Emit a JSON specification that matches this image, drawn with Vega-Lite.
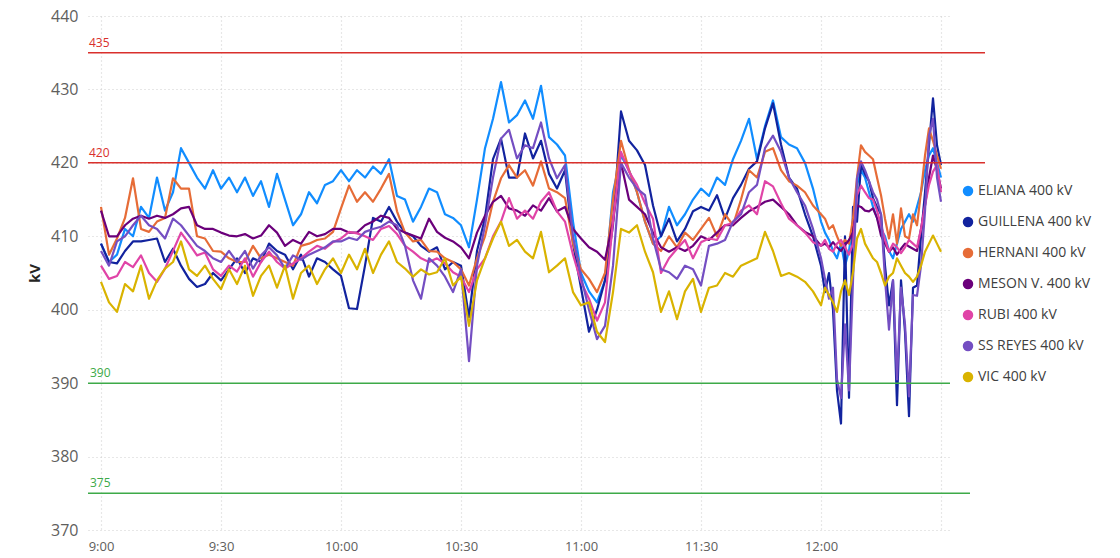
{
  "$schema": "https://vega.github.io/schema/vega-lite/v6.json",
  "width": 862,
  "height": 514,
  "autosize": {"type": "none"},
  "padding": {"left": 88, "top": 16, "right": 170, "bottom": 28},
  "background": "white",
  "config": {
    "font": "Open Sans",
    "view": {"stroke": null},
    "axis": {"domain": false, "ticks": false, "grid": true, "gridColor": "#cfcfcf", "gridDash": [1, 3], "gridWidth": 1.2}
  },
  "layer": [
    {
      "data": {
        "format": {"parse": {"t": "utc:'%H:%M'"}},
        "values": [
          {"t":"09:00","E":409,"G":409,"H":414,"M":413.5,"R":406,"S":408,"V":403.8},
          {"t":"09:02","E":406.5,"G":406.5,"H":407.5,"M":410,"R":404.2,"S":406,"V":401},
          {"t":"09:04","E":407.5,"G":406.3,"H":409.7,"M":410,"R":404.6,"S":409.3,"V":399.7},
          {"t":"09:06","E":411,"G":408,"H":412.5,"M":411.5,"R":406.5,"S":410,"V":403.5},
          {"t":"09:08","E":410,"G":409.3,"H":417.9,"M":412.4,"R":405.8,"S":411.5,"V":402.5},
          {"t":"09:10","E":414,"G":409.3,"H":411,"M":412.8,"R":407.4,"S":412.8,"V":406},
          {"t":"09:12","E":412.5,"G":409.5,"H":410.6,"M":412.4,"R":405,"S":411.5,"V":401.5},
          {"t":"09:14","E":418,"G":409.7,"H":412,"M":412.8,"R":403.8,"S":411,"V":404},
          {"t":"09:16","E":413.5,"G":406.5,"H":412.5,"M":412.5,"R":405.6,"S":409.7,"V":405.6},
          {"t":"09:18","E":416,"G":408.3,"H":417.9,"M":413,"R":408,"S":412.4,"V":406.5},
          {"t":"09:20","E":422,"G":406,"H":416.5,"M":413.8,"R":410.5,"S":411.5,"V":409.3},
          {"t":"09:22","E":420,"G":404.2,"H":416.5,"M":414,"R":409,"S":410.1,"V":405.5},
          {"t":"09:24","E":418,"G":403.1,"H":410,"M":411.5,"R":407.4,"S":408.7,"V":404.6},
          {"t":"09:26","E":416.5,"G":403.5,"H":409.7,"M":411,"R":407.8,"S":408,"V":406},
          {"t":"09:28","E":419,"G":405,"H":408,"M":411,"R":405.5,"S":407,"V":404.2},
          {"t":"09:30","E":416.5,"G":404,"H":407.9,"M":410.5,"R":404.6,"S":406.5,"V":402.8},
          {"t":"09:32","E":418,"G":405.5,"H":407,"M":410.1,"R":406,"S":408,"V":405.5},
          {"t":"09:34","E":416,"G":407,"H":406.5,"M":410,"R":405.2,"S":406.5,"V":403.5},
          {"t":"09:36","E":418,"G":405,"H":406.5,"M":410.3,"R":407,"S":408,"V":406},
          {"t":"09:38","E":415.5,"G":407,"H":408.7,"M":409.7,"R":404.5,"S":405.6,"V":401.9},
          {"t":"09:40","E":417.5,"G":406.5,"H":407,"M":410.1,"R":406.5,"S":407.4,"V":404.6},
          {"t":"09:42","E":414,"G":409,"H":407.5,"M":411.5,"R":407.9,"S":408.5,"V":406},
          {"t":"09:44","E":418.5,"G":408,"H":407,"M":410.5,"R":406.5,"S":407.4,"V":403},
          {"t":"09:46","E":415,"G":407.5,"H":406.5,"M":408.7,"R":405.6,"S":405.6,"V":406},
          {"t":"09:48","E":411.5,"G":405.5,"H":406,"M":409.5,"R":406.3,"S":407.4,"V":401.5},
          {"t":"09:50","E":413,"G":407.5,"H":408.7,"M":409,"R":407,"S":406.8,"V":405},
          {"t":"09:52","E":416,"G":404.5,"H":409,"M":410.6,"R":407.9,"S":407.5,"V":406},
          {"t":"09:54","E":414.5,"G":407,"H":409.5,"M":410,"R":408.7,"S":408,"V":403.5},
          {"t":"09:56","E":417,"G":406.5,"H":409.7,"M":410.3,"R":408.3,"S":408.5,"V":405.5},
          {"t":"09:58","E":417.5,"G":405.5,"H":410.6,"M":411,"R":409.2,"S":409.3,"V":407},
          {"t":"10:00","E":419,"G":404.6,"H":413.8,"M":411,"R":409.7,"S":409.3,"V":405},
          {"t":"10:02","E":417.5,"G":400.2,"H":416.9,"M":410.5,"R":410.6,"S":409.8,"V":407.5},
          {"t":"10:04","E":419,"G":400.1,"H":414.7,"M":410.5,"R":410.4,"S":409.5,"V":405.5},
          {"t":"10:06","E":418,"G":406,"H":416,"M":411.5,"R":410,"S":410.6,"V":408.3},
          {"t":"10:08","E":419.5,"G":412.5,"H":414.7,"M":412,"R":409.5,"S":411,"V":405},
          {"t":"10:10","E":418.5,"G":412,"H":416.5,"M":412.8,"R":411,"S":411.3,"V":407.5},
          {"t":"10:12","E":420.5,"G":414,"H":418.5,"M":412.5,"R":411.4,"S":412,"V":409.3},
          {"t":"10:14","E":415.5,"G":412,"H":413.4,"M":411,"R":410.3,"S":411.5,"V":406.5},
          {"t":"10:16","E":415,"G":410.5,"H":410.5,"M":410.5,"R":408.7,"S":408.7,"V":405.6},
          {"t":"10:18","E":412,"G":410,"H":409.3,"M":410.1,"R":407.9,"S":404,"V":404.5},
          {"t":"10:20","E":414,"G":408.7,"H":409.5,"M":409.7,"R":407,"S":401.5,"V":405.5},
          {"t":"10:22","E":416.5,"G":407.9,"H":408,"M":412.4,"R":406.5,"S":407,"V":404.8},
          {"t":"10:24","E":416,"G":408.5,"H":407.9,"M":410.6,"R":407,"S":406,"V":405.1},
          {"t":"10:26","E":413,"G":405.5,"H":407,"M":409.8,"R":406.3,"S":404.5,"V":407},
          {"t":"10:28","E":412.5,"G":406.5,"H":406.5,"M":409.3,"R":405.1,"S":402.4,"V":403.3},
          {"t":"10:30","E":411.5,"G":406,"H":405.5,"M":408.5,"R":404.5,"S":405.5,"V":404.5},
          {"t":"10:32","E":408.5,"G":399,"H":403.3,"M":407,"R":402.4,"S":393,"V":397.8},
          {"t":"10:34","E":415,"G":408,"H":407,"M":410.5,"R":405.5,"S":406,"V":404},
          {"t":"10:36","E":422,"G":412.5,"H":410,"M":412.8,"R":407,"S":411.5,"V":407},
          {"t":"10:38","E":426,"G":420.5,"H":414.7,"M":414.7,"R":410,"S":418,"V":409.7},
          {"t":"10:40","E":431,"G":423.3,"H":417.9,"M":415.5,"R":412,"S":423.3,"V":412},
          {"t":"10:42","E":425.5,"G":418,"H":419.7,"M":413.8,"R":415.2,"S":424.5,"V":408.7},
          {"t":"10:44","E":426.5,"G":418,"H":418,"M":413.5,"R":412.4,"S":420.6,"V":409.5},
          {"t":"10:46","E":428.5,"G":424,"H":419,"M":412.8,"R":413.5,"S":422.4,"V":407.9},
          {"t":"10:48","E":426,"G":420.6,"H":416.9,"M":414.2,"R":412.4,"S":422,"V":407},
          {"t":"10:50","E":430.5,"G":423,"H":420.2,"M":413.5,"R":414.7,"S":425.5,"V":410.6},
          {"t":"10:52","E":423.5,"G":418.5,"H":416.5,"M":415.2,"R":416,"S":420.6,"V":405.1},
          {"t":"10:54","E":422.5,"G":416.5,"H":416,"M":413.4,"R":413.4,"S":417.9,"V":406},
          {"t":"10:56","E":421,"G":419,"H":415.2,"M":414,"R":412,"S":419.7,"V":407},
          {"t":"10:58","E":412,"G":409,"H":409,"M":411,"R":407.5,"S":410,"V":402.4},
          {"t":"11:00","E":405,"G":403,"H":405.5,"M":409.7,"R":403.8,"S":404.5,"V":400.6},
          {"t":"11:02","E":402.5,"G":397,"H":404.2,"M":408.5,"R":401.5,"S":400,"V":401},
          {"t":"11:04","E":401,"G":400,"H":402.4,"M":407.9,"R":398.5,"S":396,"V":397},
          {"t":"11:06","E":404,"G":404,"H":405,"M":406.8,"R":401,"S":397.8,"V":395.6},
          {"t":"11:08","E":416,"G":411.5,"H":415,"M":412,"R":412,"S":406,"V":402.4},
          {"t":"11:10","E":421,"G":427,"H":423,"M":420,"R":421.5,"S":420,"V":411},
          {"t":"11:12","E":419,"G":423,"H":419,"M":415,"R":418.8,"S":418,"V":410.5},
          {"t":"11:14","E":416,"G":421.7,"H":416,"M":414,"R":417,"S":416.5,"V":411.5},
          {"t":"11:16","E":412,"G":419.7,"H":412,"M":413,"R":414.5,"S":415.6,"V":407.9},
          {"t":"11:18","E":409,"G":414.2,"H":409,"M":410.5,"R":412.4,"S":409.7,"V":405.1},
          {"t":"11:20","E":410,"G":410,"H":408,"M":408.5,"R":405,"S":405.5,"V":399.7},
          {"t":"11:22","E":414,"G":412.4,"H":410,"M":407.9,"R":407,"S":405.1,"V":402.5},
          {"t":"11:24","E":411.5,"G":409.3,"H":408.5,"M":408.5,"R":408.3,"S":404.2,"V":398.7},
          {"t":"11:26","E":413,"G":411,"H":410.5,"M":408,"R":409.5,"S":406,"V":402.5},
          {"t":"11:28","E":415,"G":413.4,"H":409.5,"M":408.7,"R":407,"S":405.5,"V":404.2},
          {"t":"11:30","E":416.5,"G":414,"H":411,"M":410,"R":409.2,"S":403.3,"V":399.7},
          {"t":"11:32","E":415.5,"G":413.5,"H":412.5,"M":409.5,"R":409.7,"S":408.7,"V":403},
          {"t":"11:34","E":418,"G":415.6,"H":410,"M":410.5,"R":409.5,"S":409,"V":403.3},
          {"t":"11:36","E":417,"G":412.4,"H":413,"M":411.5,"R":411.5,"S":409.5,"V":405},
          {"t":"11:38","E":420.5,"G":415.2,"H":411.5,"M":411.5,"R":411.8,"S":412,"V":404.5},
          {"t":"11:40","E":423,"G":417,"H":415,"M":412.5,"R":413.5,"S":413,"V":406},
          {"t":"11:42","E":426,"G":419.2,"H":419,"M":413.4,"R":414.2,"S":416,"V":406.5},
          {"t":"11:44","E":420.5,"G":420.2,"H":418,"M":414,"R":413,"S":417,"V":407},
          {"t":"11:46","E":425,"G":424.7,"H":421.5,"M":414.7,"R":417.5,"S":422,"V":410.6},
          {"t":"11:48","E":428.5,"G":428.1,"H":422,"M":415,"R":416.8,"S":423.7,"V":408},
          {"t":"11:50","E":423.5,"G":422.5,"H":419,"M":414,"R":414.5,"S":421.5,"V":404.6},
          {"t":"11:52","E":422.5,"G":418,"H":417.5,"M":413,"R":412.4,"S":418,"V":405},
          {"t":"11:54","E":422,"G":416.5,"H":416.9,"M":411.5,"R":411.5,"S":416,"V":404.5},
          {"t":"11:56","E":420,"G":413,"H":416,"M":410.6,"R":410.5,"S":414.2,"V":403.8},
          {"t":"11:58","E":416.5,"G":410,"H":414.2,"M":410,"R":409.2,"S":411,"V":402.5},
          {"t":"12:00","E":412,"G":406,"H":413,"M":408.7,"R":408.7,"S":407,"V":400.6},
          {"t":"12:01","E":410.5,"G":402.4,"H":412.4,"M":409,"R":409.5,"S":404.2,"V":403},
          {"t":"12:02","E":409.5,"G":405,"H":411,"M":408.5,"R":408.3,"S":401.5,"V":402},
          {"t":"12:03","E":408,"G":400,"H":411.5,"M":409.2,"R":407.9,"S":403,"V":401},
          {"t":"12:04","E":407,"G":389,"H":410,"M":408.5,"R":409,"S":390.5,"V":399.7},
          {"t":"12:05","E":409,"G":384.5,"H":408.7,"M":408,"R":409.5,"S":388,"V":402.5},
          {"t":"12:06","E":406,"G":410,"H":409.5,"M":408.8,"R":408.5,"S":398,"V":404},
          {"t":"12:07","E":408,"G":388,"H":409,"M":409.5,"R":407.5,"S":389,"V":402},
          {"t":"12:08","E":412,"G":414,"H":412.4,"M":410.5,"R":409,"S":404,"V":405.1},
          {"t":"12:09","E":417,"G":412,"H":418,"M":414.2,"R":415.6,"S":417.9,"V":409.7},
          {"t":"12:10","E":419,"G":419.7,"H":422.4,"M":414,"R":416.9,"S":420.2,"V":411},
          {"t":"12:11","E":418,"G":418.5,"H":421.5,"M":413.5,"R":416,"S":419,"V":409},
          {"t":"12:12","E":416,"G":417.5,"H":421,"M":413.4,"R":415.2,"S":417.5,"V":408},
          {"t":"12:13","E":414,"G":415.2,"H":420.5,"M":413.8,"R":415,"S":416,"V":407},
          {"t":"12:14","E":412.5,"G":414,"H":418,"M":412.5,"R":413.5,"S":415,"V":406.5},
          {"t":"12:15","E":411,"G":413,"H":415.6,"M":410.1,"R":411.5,"S":413,"V":405},
          {"t":"12:16","E":410,"G":406,"H":412.4,"M":409,"R":409.5,"S":404.2,"V":403.3},
          {"t":"12:17","E":408,"G":400.6,"H":409.7,"M":407.9,"R":407.9,"S":397.3,"V":404.5},
          {"t":"12:18","E":407,"G":404,"H":413,"M":408.5,"R":409,"S":404,"V":405},
          {"t":"12:19","E":409,"G":387,"H":409,"M":407.5,"R":408.5,"S":390.5,"V":407},
          {"t":"12:20","E":411,"G":404,"H":413.8,"M":408.3,"R":407.7,"S":403,"V":406},
          {"t":"12:21","E":412,"G":397,"H":410,"M":409,"R":408.5,"S":398,"V":405},
          {"t":"12:22","E":413,"G":385.5,"H":409.7,"M":408.6,"R":409.5,"S":388.2,"V":404.5},
          {"t":"12:23","E":412,"G":403,"H":413,"M":408.3,"R":409,"S":402,"V":403.8},
          {"t":"12:24","E":414,"G":403.3,"H":411.5,"M":408,"R":408.5,"S":401.9,"V":404.5},
          {"t":"12:25","E":416,"G":410,"H":416,"M":411,"R":411,"S":406,"V":406},
          {"t":"12:26","E":419,"G":416,"H":421,"M":414.2,"R":414.2,"S":413.4,"V":407.9},
          {"t":"12:27","E":421,"G":422.4,"H":424.7,"M":418,"R":417,"S":423.7,"V":409},
          {"t":"12:28","E":422,"G":428.8,"H":423,"M":421,"R":418.8,"S":426,"V":410.1},
          {"t":"12:29","E":420,"G":422.4,"H":421,"M":419,"R":419.7,"S":418,"V":409},
          {"t":"12:30","E":418,"G":419.7,"H":419.2,"M":416.5,"R":416,"S":414.7,"V":407.9}
        ]
      },
      "transform": [
        {"fold": ["E", "G", "H", "M", "R", "S", "V"], "as": ["k", "kV"]},
        {"lookup": "k", "from": {"data": {"values": [
          {"k": "E", "name": "ELIANA 400 kV"},
          {"k": "G", "name": "GUILLENA 400 kV"},
          {"k": "H", "name": "HERNANI 400 kV"},
          {"k": "M", "name": "MESON V. 400 kV"},
          {"k": "R", "name": "RUBI 400 kV"},
          {"k": "S", "name": "SS REYES 400 kV"},
          {"k": "V", "name": "VIC 400 kV"}
        ]}, "key": "k", "fields": ["name"]}}
      ],
      "mark": {"type": "line", "strokeWidth": 2.2, "strokeJoin": "round"},
      "encoding": {
        "x": {
          "field": "t", "type": "temporal",
          "scale": {"type": "utc", "domain": [
            {"year": 1900, "month": 1, "date": 1, "hours": 8, "minutes": 56, "seconds": 45, "utc": true},
            {"year": 1900, "month": 1, "date": 1, "hours": 12, "minutes": 32, "seconds": 15, "utc": true}
          ]},
          "axis": {
            "title": null,
            "format": "%-H:%M",
            "values": [
              {"year": 1900, "month": 1, "date": 1, "hours": 9, "minutes": 0, "utc": true},
              {"year": 1900, "month": 1, "date": 1, "hours": 9, "minutes": 30, "utc": true},
              {"year": 1900, "month": 1, "date": 1, "hours": 10, "minutes": 0, "utc": true},
              {"year": 1900, "month": 1, "date": 1, "hours": 10, "minutes": 30, "utc": true},
              {"year": 1900, "month": 1, "date": 1, "hours": 11, "minutes": 0, "utc": true},
              {"year": 1900, "month": 1, "date": 1, "hours": 11, "minutes": 30, "utc": true},
              {"year": 1900, "month": 1, "date": 1, "hours": 12, "minutes": 0, "utc": true},
              {"year": 1900, "month": 1, "date": 1, "hours": 12, "minutes": 30, "utc": true}
            ],
            "labelExpr": "utchours(datum.value) == 12 && utcminutes(datum.value) == 30 ? '' : datum.label",
            "labelFontSize": 13,
            "labelColor": "#605E5C",
            "labelPadding": 10,
            "labelOverlap": false,
            "labelFlush": false
          }
        },
        "y": {
          "field": "kV", "type": "quantitative",
          "scale": {"domain": [370, 440], "nice": false, "zero": false},
          "axis": {
            "title": "kV",
            "values": [370, 380, 390, 400, 410, 420, 430, 440],
            "labelFontSize": 16,
            "labelColor": "#605E5C",
            "labelPadding": 10,
            "titleFontSize": 15,
            "titleFontWeight": "bold",
            "titleColor": "#252423",
            "titlePadding": 8
          }
        },
        "color": {
          "field": "name", "type": "nominal",
          "scale": {
            "domain": ["ELIANA 400 kV", "GUILLENA 400 kV", "HERNANI 400 kV", "MESON V. 400 kV", "RUBI 400 kV", "SS REYES 400 kV", "VIC 400 kV"],
            "range": ["#118DFF", "#12239E", "#E66C37", "#6B007B", "#E044A7", "#744EC2", "#D9B300"]
          },
          "legend": {
            "title": null,
            "orient": "none",
            "legendX": 873,
            "legendY": 168,
            "symbolType": "circle",
            "symbolSize": 110,
            "labelFontSize": 14,
            "labelColor": "#404040",
            "labelOffset": 3,
            "rowPadding": 17,
            "encode": {"symbols": {"update": {"fill": {"scale": "color", "field": "value"}, "strokeWidth": {"value": 0}, "opacity": {"value": 1}}}}
          }
        }
      }
    },
    {
      "data": {"values": [{"kV": 435}, {"kV": 420}]},
      "mark": {"type": "rule", "color": "#D9302C", "strokeWidth": 1.5},
      "encoding": {
        "y": {"field": "kV", "type": "quantitative"},
        "x": {"datum": {"year": 1900, "month": 1, "date": 1, "hours": 8, "minutes": 56, "seconds": 45, "utc": true}, "type": "temporal"},
        "x2": {"datum": {"year": 1900, "month": 1, "date": 1, "hours": 12, "minutes": 41, "utc": true}}
      }
    },
    {
      "data": {"values": [{"kV": 390}]},
      "mark": {"type": "rule", "color": "#3DAA48", "strokeWidth": 1.5},
      "encoding": {
        "y": {"field": "kV", "type": "quantitative"},
        "x": {"datum": {"year": 1900, "month": 1, "date": 1, "hours": 8, "minutes": 56, "seconds": 45, "utc": true}, "type": "temporal"},
        "x2": {"datum": {"year": 1900, "month": 1, "date": 1, "hours": 12, "minutes": 32, "seconds": 15, "utc": true}}
      }
    },
    {
      "data": {"values": [{"kV": 375}]},
      "mark": {"type": "rule", "color": "#3DAA48", "strokeWidth": 1.5},
      "encoding": {
        "y": {"field": "kV", "type": "quantitative"},
        "x": {"datum": {"year": 1900, "month": 1, "date": 1, "hours": 8, "minutes": 56, "seconds": 45, "utc": true}, "type": "temporal"},
        "x2": {"datum": {"year": 1900, "month": 1, "date": 1, "hours": 12, "minutes": 37, "seconds": 15, "utc": true}}
      }
    },
    {
      "data": {"values": [{"kV": 435, "lab": "435"}, {"kV": 420, "lab": "420"}]},
      "mark": {"type": "text", "color": "#D9302C", "fontSize": 12, "align": "left", "baseline": "bottom", "dx": 1, "dy": -3},
      "encoding": {
        "y": {"field": "kV", "type": "quantitative"},
        "x": {"datum": {"year": 1900, "month": 1, "date": 1, "hours": 8, "minutes": 56, "seconds": 45, "utc": true}, "type": "temporal"},
        "text": {"field": "lab"}
      }
    },
    {
      "data": {"values": [{"kV": 390, "lab": "390"}, {"kV": 375, "lab": "375"}]},
      "mark": {"type": "text", "color": "#3DAA48", "fontSize": 12, "align": "left", "baseline": "bottom", "dx": 2, "dy": -3},
      "encoding": {
        "y": {"field": "kV", "type": "quantitative"},
        "x": {"datum": {"year": 1900, "month": 1, "date": 1, "hours": 8, "minutes": 56, "seconds": 45, "utc": true}, "type": "temporal"},
        "text": {"field": "lab"}
      }
    }
  ]
}
